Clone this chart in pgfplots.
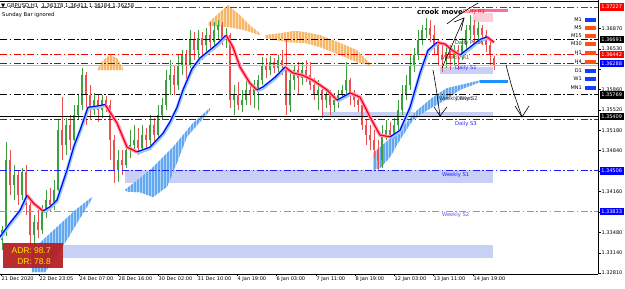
\documentclass[border=0pt]{standalone}
\usepackage{fontspec}
\setmainfont{DejaVu Sans}
\newfontfamily\arial{Liberation Sans}
\usepackage{pgfplots}
\pgfplotsset{compat=1.18}
\usepackage{pgfplotstable}
\usetikzlibrary{patterns.meta}

\definecolor{cgreen}{RGB}{60,160,60}
\definecolor{cred}{RGB}{235,80,80}
\definecolor{zone}{RGB}{200,208,245}
\definecolor{cloudb}{RGB}{175,212,250}
\definecolor{cloudbs}{RGB}{100,168,240}
\definecolor{cloudo}{RGB}{252,222,185}
\definecolor{cloudos}{RGB}{248,182,105}
\definecolor{lblue}{RGB}{30,30,255}
\definecolor{wblue}{RGB}{140,140,255}
\definecolor{adr}{RGB}{180,28,32}
\definecolor{adry}{RGB}{255,225,0}
\definecolor{mtblue}{RGB}{20,60,255}
\definecolor{mtorange}{RGB}{255,80,20}
\definecolor{bhalo}{RGB}{150,205,255}
\definecolor{rhalo}{RGB}{255,150,190}

\pgfplotstableread{
x o c h l
2 1.3336 1.3352 1.3359 1.3319
6 1.3352 1.3468 1.3498 1.3342
14 1.3427 1.3444 1.3460 1.3402
22 1.3410 1.3449 1.3455 1.3402
34 1.3344 1.3366 1.3377 1.3316
42 1.3352 1.3382 1.3394 1.3346
46 1.3382 1.3402 1.3419 1.3372
54 1.3394 1.3419 1.3435 1.3385
58 1.3419 1.3518 1.3535 1.3415
66 1.3493 1.3526 1.3538 1.3477
74 1.3502 1.3543 1.3560 1.3493
78 1.3543 1.3560 1.3576 1.3535
82 1.3560 1.3609 1.3621 1.3551
94 1.3551 1.3568 1.3580 1.3543
102 1.3551 1.3568 1.3576 1.3538
118 1.3452 1.3468 1.3485 1.3432
126 1.3460 1.3485 1.3493 1.3455
130 1.3485 1.3493 1.3518 1.3472
134 1.3493 1.3502 1.3526 1.3485
142 1.3488 1.3510 1.3526 1.3482
150 1.3502 1.3526 1.3543 1.3493
158 1.3510 1.3543 1.3560 1.3502
162 1.3543 1.3560 1.3571 1.3535
166 1.3560 1.3601 1.3618 1.3551
170 1.3601 1.3609 1.3634 1.3576
178 1.3593 1.3626 1.3643 1.3585
182 1.3626 1.3643 1.3651 1.3609
190 1.3626 1.3668 1.3684 1.3621
198 1.3651 1.3671 1.3684 1.3638
206 1.3659 1.3676 1.3687 1.3643
214 1.3664 1.3684 1.3697 1.3651
218 1.3684 1.3692 1.3701 1.3668
226 1.3668 1.3676 1.3687 1.3654
234 1.3568 1.3576 1.3593 1.3543
242 1.3560 1.3568 1.3585 1.3548
246 1.3568 1.3585 1.3601 1.3560
254 1.3576 1.3588 1.3601 1.3555
258 1.3588 1.3601 1.3609 1.3551
262 1.3601 1.3626 1.3639 1.3593
270 1.3618 1.3631 1.3641 1.3609
278 1.3621 1.3634 1.3643 1.3614
290 1.3560 1.3601 1.3618 1.3548
294 1.3601 1.3618 1.3626 1.3585
302 1.3604 1.3618 1.3631 1.3593
318 1.3576 1.3585 1.3601 1.3551
326 1.3568 1.3576 1.3588 1.3555
334 1.3560 1.3568 1.3580 1.3548
338 1.3568 1.3576 1.3585 1.3555
342 1.3576 1.3585 1.3593 1.3568
346 1.3585 1.3601 1.3631 1.3576
382 1.3468 1.3510 1.3526 1.3455
386 1.3510 1.3518 1.3535 1.3502
394 1.3510 1.3526 1.3538 1.3505
398 1.3526 1.3551 1.3568 1.3518
402 1.3551 1.3576 1.3593 1.3543
406 1.3576 1.3593 1.3609 1.3568
410 1.3593 1.3626 1.3643 1.3585
414 1.3626 1.3643 1.3654 1.3614
418 1.3643 1.3668 1.3684 1.3634
422 1.3668 1.3684 1.3692 1.3659
426 1.3684 1.3687 1.3704 1.3671
446 1.3634 1.3648 1.3659 1.3621
454 1.3638 1.3651 1.3659 1.3626
462 1.3643 1.3659 1.3671 1.3634
466 1.3659 1.3684 1.3692 1.3651
470 1.3684 1.3692 1.3709 1.3668
478 1.3676 1.3687 1.3697 1.3664
}\greentab

\pgfplotstableread{
x o c h l
10 1.3468 1.3427 1.3485 1.3410
18 1.3444 1.3410 1.3452 1.3394
26 1.3449 1.3394 1.3460 1.3377
30 1.3394 1.3344 1.3402 1.3327
38 1.3366 1.3352 1.3385 1.3339
50 1.3402 1.3394 1.3422 1.3382
62 1.3518 1.3493 1.3573 1.3468
70 1.3526 1.3502 1.3543 1.3485
86 1.3609 1.3576 1.3614 1.3526
90 1.3576 1.3551 1.3593 1.3535
98 1.3568 1.3551 1.3576 1.3531
106 1.3568 1.3560 1.3575 1.3548
110 1.3560 1.3502 1.3568 1.3468
114 1.3502 1.3452 1.3510 1.3430
122 1.3468 1.3460 1.3485 1.3444
138 1.3502 1.3488 1.3521 1.3477
146 1.3510 1.3502 1.3521 1.3485
154 1.3526 1.3510 1.3538 1.3493
174 1.3609 1.3593 1.3626 1.3576
186 1.3643 1.3626 1.3651 1.3601
194 1.3668 1.3651 1.3681 1.3634
202 1.3671 1.3659 1.3681 1.3634
210 1.3676 1.3664 1.3697 1.3648
222 1.3692 1.3668 1.3697 1.3659
230 1.3676 1.3568 1.3679 1.3555
238 1.3576 1.3560 1.3598 1.3551
250 1.3585 1.3576 1.3593 1.3560
266 1.3626 1.3618 1.3638 1.3604
274 1.3631 1.3621 1.3638 1.3613
282 1.3634 1.3626 1.3651 1.3609
286 1.3626 1.3560 1.3668 1.3543
298 1.3618 1.3604 1.3631 1.3576
306 1.3618 1.3609 1.3634 1.3598
310 1.3609 1.3593 1.3631 1.3585
314 1.3593 1.3576 1.3604 1.3568
322 1.3585 1.3568 1.3593 1.3538
330 1.3576 1.3560 1.3585 1.3543
350 1.3601 1.3576 1.3604 1.3560
354 1.3576 1.3568 1.3585 1.3556
358 1.3568 1.3560 1.3576 1.3548
362 1.3560 1.3526 1.3568 1.3518
366 1.3526 1.3510 1.3535 1.3493
370 1.3510 1.3502 1.3526 1.3485
374 1.3502 1.3485 1.3518 1.3472
378 1.3485 1.3468 1.3502 1.3452
390 1.3518 1.3510 1.3531 1.3502
430 1.3687 1.3676 1.3701 1.3664
434 1.3676 1.3659 1.3692 1.3643
438 1.3659 1.3643 1.3668 1.3626
442 1.3643 1.3634 1.3659 1.3614
450 1.3648 1.3638 1.3659 1.3618
458 1.3651 1.3643 1.3659 1.3618
474 1.3692 1.3676 1.3701 1.3659
482 1.3687 1.3676 1.3692 1.3659
486 1.3676 1.3659 1.3684 1.3648
490 1.3659 1.3643 1.3668 1.3626
494 1.36378 1.36258 1.36411 1.36184
}\redtab

\pgfplotstableread{
x y
0 1.3341
10 1.3364
20 1.3385
27 1.3410
nan nan
43 1.3384
50 1.3391
57 1.3402
67 1.3452
74 1.3492
80 1.3518
88 1.3556
100 1.3559
105 1.3561
nan nan
137 1.3482
150 1.3490
163 1.3513
170 1.3532
177 1.3556
183 1.3585
192 1.3620
200 1.3638
217 1.3661
226 1.3676
nan nan
257 1.3585
263 1.3590
275 1.3606
285 1.3623
nan nan
337 1.3568
350 1.3580
nan nan
390 1.3507
400 1.3518
410 1.3556
420 1.3613
428 1.3651
437 1.3664
nan nan
460 1.3643
470 1.3656
480 1.3669
487 1.3673
}\maB

\pgfplotstableread{
x y
27 1.3410
34 1.3396
43 1.3384
nan nan
105 1.3561
117 1.3530
127 1.3490
137 1.3482
nan nan
226 1.3676
233 1.3656
240 1.3623
250 1.3596
257 1.3585
nan nan
285 1.3623
293 1.3613
303 1.3609
313 1.3601
327 1.3585
337 1.3568
nan nan
350 1.3580
360 1.3573
370 1.3540
380 1.3510
390 1.3507
nan nan
437 1.3664
445 1.3661
452 1.3651
460 1.3643
nan nan
487 1.3673
494 1.3664
}\maR

\pgfplotsset{
  hl/.style={line width=0.8pt, dash pattern=on 7pt off 2.5pt on 1.5pt off 2.5pt},
  zonefill/.style={fill=zone, draw=none, forget plot},
  bcloud/.style={draw=none, preaction={fill=cloudb}, pattern={Lines[angle=90,distance=3pt,line width=1.2pt]}, pattern color=cloudbs},
  ocloud/.style={draw=none, preaction={fill=cloudo}, pattern={Lines[angle=90,distance=3pt,line width=1.1pt]}, pattern color=cloudos},
}

\begin{document}
\begin{tikzpicture}
\useasboundingbox (0,0) rectangle (625pt,289pt);
\fill[white] (0,0) rectangle (625pt,289pt);
\begin{axis}[
  at={(0,15pt)}, anchor=south west,
  scale only axis, width=598pt, height=274pt,
  xmin=0, xmax=598, ymin=1.32793, ymax=1.37343,
  clip=false,
  axis x line*=bottom, axis y line*=right,
  axis line style={black, line width=0.8pt, -},
  tick align=outside, major tick length=2.5pt,
  tick style={black, line width=0.5pt},
  xtick={1,39,79,118,158,197,237,276,316,355,394,433,473},
  xticklabels={21 Dec 2020,22 Dec 23:05,24 Dec 07:00,28 Dec 16:00,30 Dec 02:00,31 Dec 10:00,4 Jan 19:00,6 Jan 03:00,7 Jan 11:00,8 Jan 19:00,12 Jan 03:00,13 Jan 11:00,14 Jan 19:00},
  xticklabel style={anchor=north west, xshift=-0.5pt, yshift=1pt, font=\fontsize{5}{6}\selectfont, inner sep=1pt},
  ytick={1.3687,1.3653,1.3619,1.3586,1.3552,1.3518,1.3484,1.3450,1.3416,1.3382,1.3348,1.3314,1.3281},
  yticklabels={1.36870,1.36530,,1.35860,1.35520,1.35180,1.34840,,1.34160,,1.33480,1.33140,1.32810},
  yticklabel style={anchor=west, font=\fontsize{5}{6}\selectfont, inner sep=1pt, xshift=0pt},
]
% zones
\addplot[zonefill] coordinates {(63,1.3327) (493,1.3327) (493,1.3306) (63,1.3306)} -- cycle;
\addplot[zonefill] coordinates {(125,1.3452) (493,1.3452) (493,1.3430) (125,1.3430)} -- cycle;
\addplot[zonefill] coordinates {(323,1.3548) (493,1.3548) (493,1.3540) (323,1.3540)} -- cycle;
\addplot[zonefill] coordinates {(440,1.3623) (493,1.3623) (493,1.3611) (440,1.3611)} -- cycle;
\addplot[fill={rgb,255:red,255;green,205;blue,218}, draw=none] coordinates {(473,1.3712) (493,1.3712) (493,1.3697) (473,1.3697)} -- cycle;
% clouds
\addplot[bcloud] coordinates {(30,1.3316) (45,1.3339) (60,1.3362) (75,1.3385) (92,1.3407) (92,1.3404) (80,1.3372) (67,1.3336) (55,1.3306) (45,1.3282) (32,1.3282)} -- cycle;
\addplot[bcloud] coordinates {(125,1.3419) (150,1.3452) (173,1.3490) (193,1.3530) (210,1.3555) (210,1.3551) (187,1.3507) (173,1.3447) (167,1.3424) (153,1.3407) (140,1.3415) (127,1.3416)} -- cycle;
\addplot[bcloud] coordinates {(373,1.3480) (385,1.3497) (400,1.3518) (417,1.3551) (433,1.3573) (447,1.3588) (460,1.3593) (480,1.3601) (480,1.3598) (460,1.3585) (445,1.3568) (427,1.3551) (413,1.3535) (400,1.3502) (390,1.3473) (380,1.3455) (373,1.3452)} -- cycle;
\addplot[ocloud] coordinates {(97,1.3618) (103,1.3634) (110,1.3643) (117,1.3638) (123,1.3621) (123,1.3618)} -- cycle;
\addplot[ocloud] coordinates {(208,1.3696) (222,1.3717) (228,1.3726) (240,1.3709) (250,1.3692) (260,1.3679) (260,1.3676) (245,1.3684) (230,1.3689) (208,1.3692)} -- cycle;
\addplot[ocloud] coordinates {(265,1.3676) (280,1.3679) (295,1.3683) (305,1.3681) (320,1.3676) (340,1.3663) (357,1.3651) (370,1.3629) (370,1.3626) (357,1.3631) (340,1.3643) (320,1.3656) (305,1.3663) (290,1.3664) (275,1.3668) (265,1.3671)} -- cycle;
% candles
\addplot[draw=none, mark=none, forget plot, error bars/.cd, y dir=plus, y explicit, error mark=none, error bar style={draw=cgreen, line width=0.6pt}] table[x=x, y=l, y error plus expr=\thisrow{h}-\thisrow{l}] {\greentab};
\addplot[draw=none, mark=none, forget plot, error bars/.cd, y dir=plus, y explicit, error mark=none, error bar style={draw=cgreen, line width=2pt}] table[x=x, y=o, y error plus expr=\thisrow{c}-\thisrow{o}] {\greentab};
\addplot[draw=none, mark=none, forget plot, error bars/.cd, y dir=plus, y explicit, error mark=none, error bar style={draw=cred, line width=0.6pt}] table[x=x, y=l, y error plus expr=\thisrow{h}-\thisrow{l}] {\redtab};
\addplot[draw=none, mark=none, forget plot, error bars/.cd, y dir=plus, y explicit, error mark=none, error bar style={draw=cred, line width=2pt}] table[x=x, y=c, y error plus expr=\thisrow{o}-\thisrow{c}] {\redtab};
% horizontal levels
\addplot[black, line width=0.6pt] coordinates {(0,1.37325) (598,1.37325)};
\addplot[hl, red] coordinates {(0,1.37227) (598,1.37227)};
\addplot[hl, black] coordinates {(0,1.36691) (598,1.36691)};
\addplot[hl, red] coordinates {(0,1.36442) (598,1.36442)};
\addplot[hl, lblue] coordinates {(0,1.36288) (598,1.36288)};
\addplot[gray!50, line width=0.6pt] coordinates {(0,1.36258) (598,1.36258)};
\addplot[hl, black] coordinates {(0,1.35769) (598,1.35769)};
\addplot[black, line width=0.8pt] coordinates {(0,1.35409) (598,1.35409)};
\addplot[hl, lblue] coordinates {(0,1.35365) (598,1.35365)};
\addplot[hl, lblue] coordinates {(0,1.34506) (598,1.34506)};
\addplot[hl, wblue] coordinates {(0,1.33833) (598,1.33833)};
% bars
\addplot[line width=2.5pt, color={rgb,255:red,255;green,110;blue,150}] coordinates {(470,1.3717) (508,1.3717)};
\addplot[line width=3pt, color={rgb,255:red,30;green,144;blue,255}] coordinates {(480,1.3599) (508,1.3599)};
% moving average
\addplot[bhalo, line width=3.5pt, yshift=-1.2pt, unbounded coords=jump] table {\maB};
\addplot[rhalo, line width=3.5pt, unbounded coords=jump] table {\maR};
\addplot[blue, line width=1.2pt, unbounded coords=jump] table {\maB};
\addplot[red, line width=1.2pt, unbounded coords=jump] table {\maR};
% ADR box
\fill[adr, opacity=0.92] (axis cs:3,1.33309) rectangle (axis cs:63,1.32894);
\node[anchor=east, text=adry, font=\arial\fontsize{8.5}{9}\selectfont, inner sep=0pt] at (axis cs:51,1.33190) {ADR: 98.7};
\node[anchor=east, text=adry, font=\arial\fontsize{8.5}{9}\selectfont, inner sep=0pt] at (axis cs:51,1.32994) {DR: 78.8};
% header
\node[anchor=west, font=\fontsize{5.3}{6}\selectfont, inner sep=0pt] at (axis cs:1,1.37243) {▼ GBPUSD,H1\ \ 1.36378 1.36411 1.36184 1.36258};
\node[anchor=west, font=\fontsize{5.3}{6}\selectfont, inner sep=0pt] at (axis cs:2,1.37094) {Sunday Bar ignored};
% level labels
\tikzset{lvl/.style={anchor=west, font=\fontsize{5.2}{6}\selectfont, inner sep=0pt}}
\node[lvl, text=red] at (axis cs:463,1.37144) {Daily R1};
\node[lvl, text={rgb,255:red,60;green,60;blue,60}] at (axis cs:455,1.36629) {Daily Pivot};
\node[lvl, text={rgb,255:red,210;green,30;blue,30}] at (axis cs:442,1.36380) {Weekly R1};
\node[lvl, text=lblue] at (axis cs:455,1.36214) {Daily S1};
\node[lvl, text={rgb,255:red,50;green,50;blue,50}] at (axis cs:439,1.35699) {Weekly Pivot};
\node[lvl, text={rgb,255:red,50;green,50;blue,90}] at (axis cs:456,1.35699) {Daily S2};
\node[lvl, text=lblue] at (axis cs:455,1.35285) {Daily S3};
\node[lvl, text=lblue] at (axis cs:442,1.34438) {Weekly S1};
\node[lvl, text={rgb,255:red,90;green,90;blue,220}] at (axis cs:442,1.33774) {Weekly S2};
\node[anchor=west, font=\bfseries\fontsize{7}{8}\selectfont, inner sep=0pt] at (axis cs:417,1.37144) {crook move};
% hand drawn arrows
\draw[black, line width=0.6pt] (axis cs:433,1.36181) .. controls (axis cs:436,1.3590) .. (axis cs:440,1.35417);
\draw[black, line width=0.6pt] (axis cs:434,1.35567) -- (axis cs:440,1.35417) -- (axis cs:447,1.35567);
\draw[black, line width=0.6pt] (axis cs:442,1.36214) -- (axis cs:464,1.37044);
\draw[black, line width=0.6pt] (axis cs:454,1.36978) -- (axis cs:464,1.37044) -- (axis cs:461,1.36828);
\draw[black, line width=0.6pt] (axis cs:447,1.36945) .. controls (axis cs:460,1.37111) .. (axis cs:478,1.37293);
\draw[black, line width=0.6pt] (axis cs:506,1.36264) .. controls (axis cs:512,1.3588) .. (axis cs:522,1.35401);
\draw[black, line width=0.6pt] (axis cs:515,1.35583) -- (axis cs:522,1.35401) -- (axis cs:529,1.35583);
% timeframe legend
\tikzset{tf/.style={anchor=east, font=\fontsize{5}{6}\selectfont, inner sep=0pt}}
\node[tf] at (axis cs:582,1.37011) {M1};
\node[tf] at (axis cs:582,1.36878) {M5};
\node[tf] at (axis cs:582,1.36745) {M15};
\node[tf] at (axis cs:582,1.36613) {M30};
\node[tf] at (axis cs:582,1.36463) {H1};
\node[tf] at (axis cs:582,1.36314) {H4};
\node[tf] at (axis cs:582,1.36164) {D1};
\node[tf] at (axis cs:582,1.36032) {W1};
\node[tf] at (axis cs:582,1.35882) {MN1};
\fill[mtblue] (axis cs:585,1.37051) rectangle (axis cs:596,1.36971);
\fill[mtorange] (axis cs:585,1.36918) rectangle (axis cs:596,1.36838);
\fill[mtorange] (axis cs:585,1.36785) rectangle (axis cs:596,1.36705);
\fill[mtorange] (axis cs:585,1.36653) rectangle (axis cs:596,1.36573);
\fill[mtorange] (axis cs:585,1.36503) rectangle (axis cs:596,1.36423);
\fill[mtorange] (axis cs:585,1.36354) rectangle (axis cs:596,1.36274);
\fill[mtblue] (axis cs:585,1.36204) rectangle (axis cs:596,1.36124);
\fill[mtblue] (axis cs:585,1.36072) rectangle (axis cs:596,1.35992);
\fill[mtblue] (axis cs:585,1.35922) rectangle (axis cs:596,1.35842);
% price boxes on the right
\tikzset{pbox/.style={anchor=west, font=\fontsize{5}{6}\selectfont, text=white, inner sep=0.5pt, minimum height=7.5pt, minimum width=24pt, xshift=1.5pt}}
\node[pbox, fill=red] at (axis cs:598,1.37227) {1.37227};
\node[pbox, fill=black] at (axis cs:598,1.36691) {1.36691};
\node[pbox, fill=red] at (axis cs:598,1.36442) {1.36442};
\node[pbox, fill=blue] at (axis cs:598,1.36288) {1.36288};
\node[pbox, fill=black] at (axis cs:598,1.35769) {1.35769};
\node[pbox, fill=black] at (axis cs:598,1.35409) {1.35409};
\node[pbox, fill=blue] at (axis cs:598,1.34506) {1.34506};
\node[pbox, fill=blue] at (axis cs:598,1.33833) {1.33833};
\end{axis}
\end{tikzpicture}
\end{document}
